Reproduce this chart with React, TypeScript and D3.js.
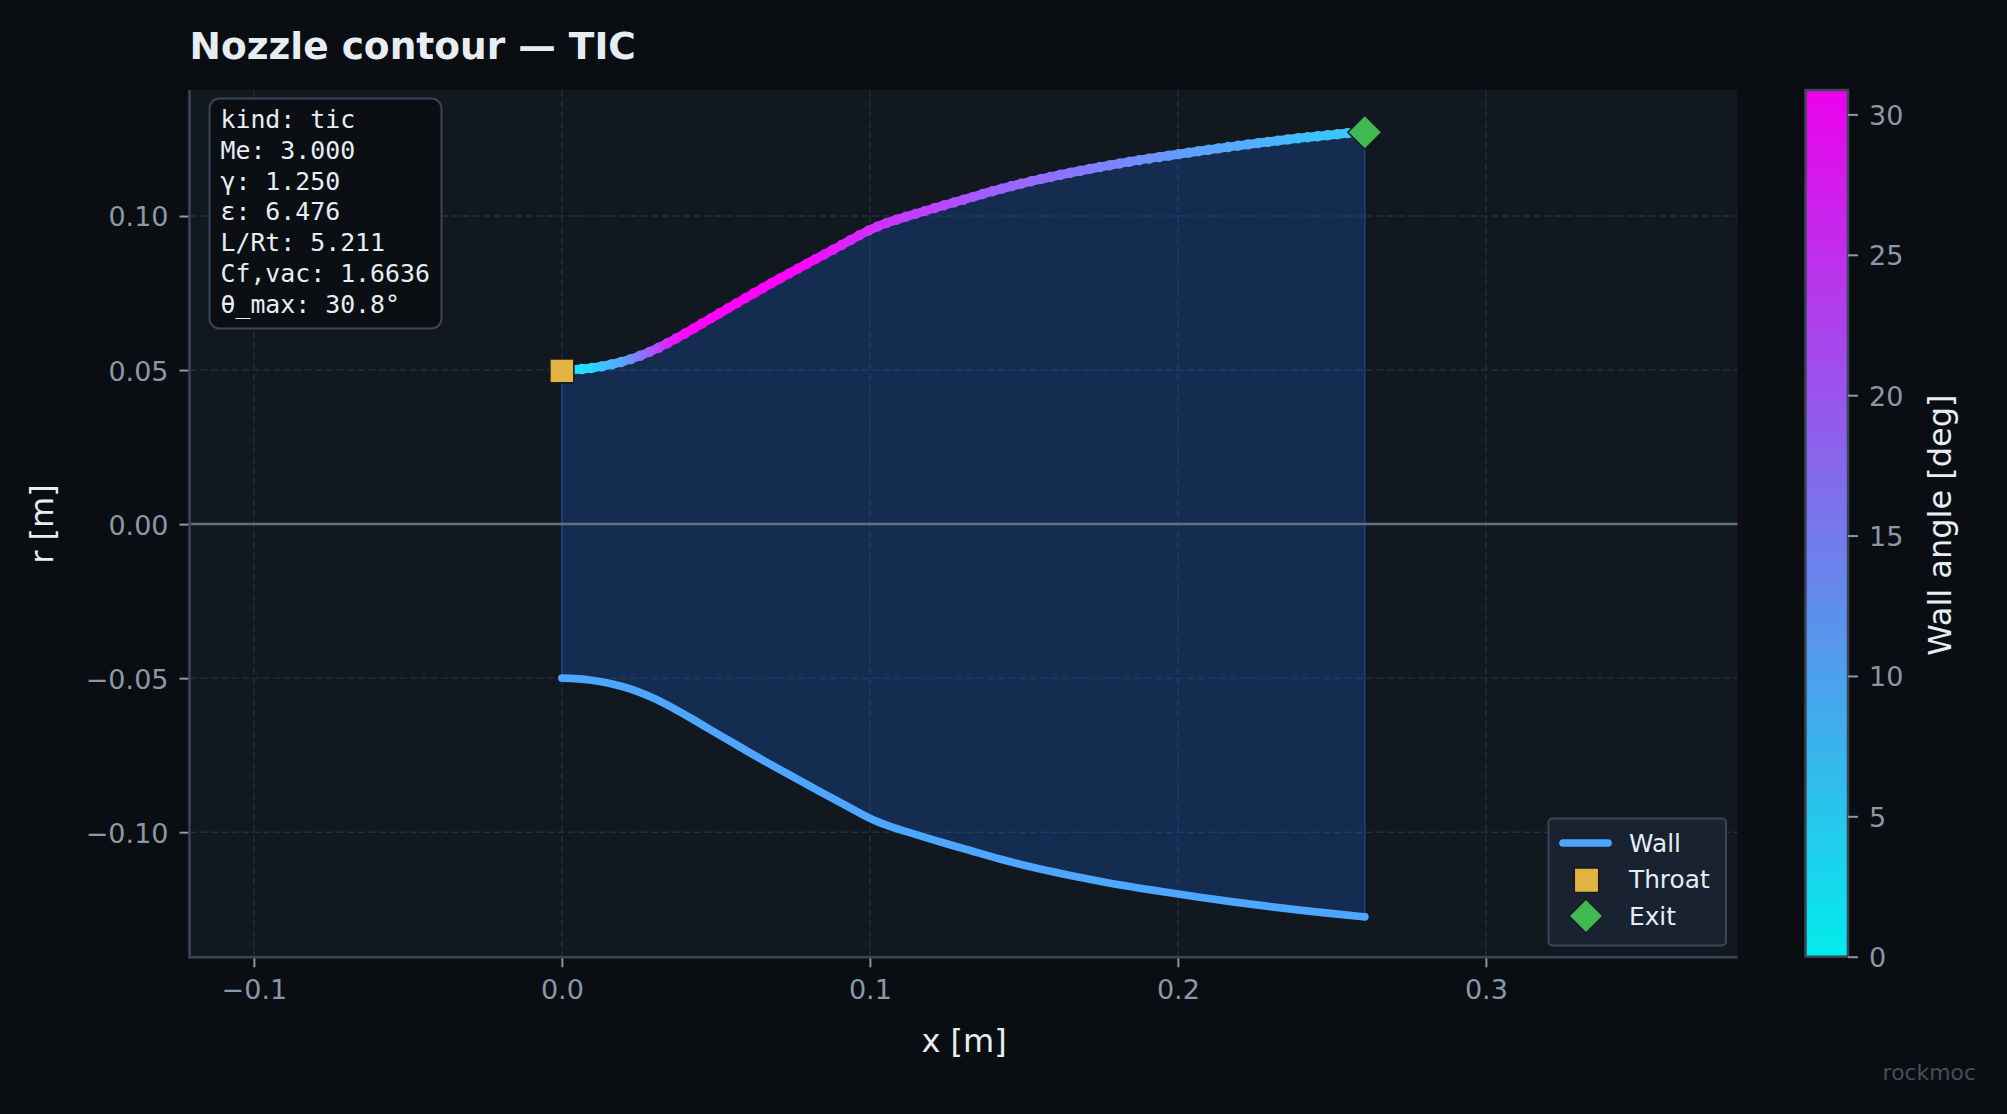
import React, { useRef, useEffect } from 'react';
import * as d3 from 'd3';

const W = 2007;
const H = 1114;

// contour: axial station [m], wall radius [m], wall angle [deg]
const wallX = [0, 0.0091, 0.0145, 0.0199, 0.0253, 0.0307, 0.0361, 0.0416, 0.047, 0.0578, 0.0686, 0.0794, 0.0903, 0.1011, 0.1065, 0.1119, 0.1227, 0.1314, 0.1422, 0.1529, 0.1639, 0.1747, 0.1854, 0.1963, 0.2071, 0.2179, 0.2288, 0.2396, 0.2503, 0.2607];
const wallR = [0.05, 0.0506, 0.0515, 0.0528, 0.0546, 0.0569, 0.0597, 0.0628, 0.066, 0.0723, 0.0785, 0.0844, 0.0903, 0.096, 0.0981, 0.0998, 0.1031, 0.1056, 0.1087, 0.1114, 0.1138, 0.1159, 0.1178, 0.1195, 0.1211, 0.1226, 0.124, 0.1253, 0.1264, 0.1275];
const wallAngle = [2, 5, 8, 11, 16, 22, 28, 30, 30.8, 30.8, 30.8, 30, 27, 25, 24.5, 23.5, 22.5, 20.5, 19, 18, 17, 15.4, 14, 12.3, 11.3, 10.3, 9.3, 8, 7.2, 6.5];

const xTicks = [-0.1, 0, 0.1, 0.2, 0.3];
const yTicks = [-0.1, -0.05, 0, 0.05, 0.1];
const angleTicks = [0, 5, 10, 15, 20, 25, 30];
const infoLines = ['kind: tic', 'Me: 3.000', 'γ: 1.250', 'ε: 6.476', 'L/Rt: 5.211', 'Cf,vac: 1.6636', 'θ_max: 30.8°'];
const legendItems = ['Wall', 'Throat', 'Exit'];

const C = {
  fig: '#0a0d12',
  axes: '#111820',
  grid: '#242f3e',
  spine: '#3a4658',
  tick: '#8b98a8',
  text: '#e6edf3',
  wall: '#4da6ff',
  throat: '#e3b341',
  exit: '#3fb950',
};
const SANS = '"DejaVu Sans", sans-serif';
const MONO = '"DejaVu Sans Mono", monospace';

function App() {
  const svgRef = useRef(null);
  useEffect(() => {
    const svg = d3.select(svgRef.current);
    svg.selectAll('*').remove();

    const left = 189.5, right = 1737.5, top = 90, bottom = 957.3;
    const x = d3.scaleLinear().domain([-0.1209, 0.3817]).range([left, right]);
    const y = d3.scaleLinear().domain([-0.1406, 0.1409]).range([bottom, top]);
    const cbar = d3.scaleLinear().domain([0, 30.87]).range([956.7, 90]);
    const cool = d3.interpolateRgb('#00ffff', '#ff00ff');
    const angleColor = (a: number) => cool(a / 30.87);

    svg.append('rect').attr('width', W).attr('height', H).attr('fill', C.fig);
    svg.append('rect').attr('x', left).attr('y', top).attr('width', right - left).attr('height', bottom - top).attr('fill', C.axes);

    // grid
    const grid = svg.append('g').attr('stroke', C.grid).attr('stroke-width', 1.4).attr('stroke-dasharray', '7 3.5');
    grid.selectAll('.gx').data(xTicks).join('line')
      .attr('x1', d => x(d)).attr('x2', d => x(d)).attr('y1', top).attr('y2', bottom);
    grid.selectAll('.gy').data(yTicks.filter(d => d !== 0)).join('line')
      .attr('x1', left).attr('x2', right).attr('y1', d => y(d)).attr('y2', d => y(d));

    // fill between walls
    const idx = d3.range(wallX.length);
    const area = d3.area<number>()
      .x(i => x(wallX[i]))
      .y0(i => y(-wallR[i]))
      .y1(i => y(wallR[i]))
      .curve(d3.curveMonotoneX);
    svg.append('path').attr('d', area(idx))
      .attr('fill', 'rgb(30,80,170)').attr('fill-opacity', 0.36)
      .attr('stroke', 'rgb(30,80,170)').attr('stroke-opacity', 0.5).attr('stroke-width', 2);

    // centre line
    svg.append('line').attr('x1', left).attr('x2', right).attr('y1', y(0)).attr('y2', y(0))
      .attr('stroke', '#626f7d').attr('stroke-width', 2.5);

    // walls
    const upper = d3.line<number>().x(i => x(wallX[i])).y(i => y(wallR[i])).curve(d3.curveMonotoneX);
    const lower = d3.line<number>().x(i => x(wallX[i])).y(i => y(-wallR[i])).curve(d3.curveMonotoneX);

    const defs = svg.append('defs');
    const lastX = wallX[wallX.length - 1];
    const wallGrad = defs.append('linearGradient').attr('id', 'wallGrad')
      .attr('gradientUnits', 'userSpaceOnUse')
      .attr('x1', x(0)).attr('x2', x(lastX)).attr('y1', 0).attr('y2', 0);
    wallGrad.selectAll('stop').data(idx).join('stop')
      .attr('offset', i => wallX[i] / lastX)
      .attr('stop-color', i => angleColor(wallAngle[i]));

    svg.append('path').attr('d', lower(idx)).attr('fill', 'none')
      .attr('stroke', C.wall).attr('stroke-width', 7.7).attr('stroke-linecap', 'round');
    svg.append('path').attr('d', upper(idx)).attr('fill', 'none')
      .attr('stroke', 'url(#wallGrad)').attr('stroke-width', 9);
    // the coloured wall is a row of dots
    svg.append('path').attr('d', upper(idx)).attr('fill', 'none')
      .attr('stroke', 'url(#wallGrad)').attr('stroke-width', 10.4)
      .attr('stroke-linecap', 'round').attr('stroke-dasharray', '0.01 10');

    // markers
    svg.append('path').attr('d', d3.symbol(d3.symbolSquare, 24 * 24)())
      .attr('transform', `translate(${x(0)},${y(0.05) + 0.8})`)
      .attr('fill', C.throat).attr('stroke', '#161b22').attr('stroke-width', 1.6);
    svg.append('path').attr('d', 'M0,-17L17,0L0,17L-17,0Z')
      .attr('transform', `translate(${x(lastX)},${y(0.1272)})`)
      .attr('fill', C.exit).attr('stroke', '#161b22').attr('stroke-width', 1.6);

    // axes
    const fmt = (d: d3.NumberValue) => d3.format('.1f')(d as number).replace('-', '\u2212');
    const fmtY = (d: d3.NumberValue) => d3.format('.2f')(d as number).replace('-', '\u2212');
    const styleAxis = (g: any) => {
      g.selectAll('.domain').remove();
      g.selectAll('.tick line').attr('stroke', C.tick).attr('stroke-width', 2);
      g.selectAll('.tick text').attr('fill', C.tick).attr('font-family', SANS).attr('font-size', 27);
    };
    const xAxis = svg.append('g').attr('transform', `translate(0,${bottom})`)
      .call(d3.axisBottom(x).tickValues(xTicks).tickFormat(fmt).tickSize(10).tickPadding(13));
    styleAxis(xAxis);
    const yAxis = svg.append('g').attr('transform', `translate(${left},0)`)
      .call(d3.axisLeft(y).tickValues(yTicks).tickFormat(fmtY).tickSize(10).tickPadding(11));
    styleAxis(yAxis);
    yAxis.selectAll('.tick text').attr('transform', 'translate(0,1.3)');

    svg.append('line').attr('x1', left).attr('x2', left).attr('y1', top).attr('y2', bottom + 1.2)
      .attr('stroke', C.spine).attr('stroke-width', 2.5);
    svg.append('line').attr('x1', left).attr('x2', right).attr('y1', bottom).attr('y2', bottom)
      .attr('stroke', C.spine).attr('stroke-width', 2.5);

    // info box
    svg.append('rect').attr('x', 209.5).attr('y', 98.5).attr('width', 232).attr('height', 230).attr('rx', 10)
      .attr('fill', '#0b0e13').attr('stroke', C.spine).attr('stroke-width', 2);
    svg.append('g').selectAll('text').data(infoLines).join('text')
      .attr('x', 220.5).attr('y', (d, i) => 128.3 + i * 30.7)
      .attr('fill', C.text).attr('font-family', MONO).attr('font-size', 24.85)
      .text(d => d);

    // legend
    svg.append('rect').attr('x', 1548.5).attr('y', 818.5).attr('width', 177.5).attr('height', 127).attr('rx', 4)
      .attr('fill', '#182230').attr('stroke', C.spine).attr('stroke-width', 2);
    svg.append('line').attr('x1', 1563).attr('x2', 1608).attr('y1', 843).attr('y2', 843)
      .attr('stroke', C.wall).attr('stroke-width', 7.7).attr('stroke-linecap', 'round');
    svg.append('path').attr('d', d3.symbol(d3.symbolSquare, 24.5 * 24.5)())
      .attr('transform', 'translate(1586.5,880.3)')
      .attr('fill', C.throat).attr('stroke', '#161b22').attr('stroke-width', 1.6);
    svg.append('path').attr('d', 'M0,-17L17,0L0,17L-17,0Z')
      .attr('transform', 'translate(1586,916)')
      .attr('fill', C.exit).attr('stroke', '#161b22').attr('stroke-width', 1.6);
    svg.append('g').selectAll('text').data(legendItems).join('text')
      .attr('x', 1629).attr('y', (d, i) => [851.7, 887.7, 925][i])
      .attr('fill', C.text).attr('font-family', SANS).attr('font-size', 24.8)
      .text(d => d);

    // colour bar
    const cx0 = 1805.5, cx1 = 1848;
    const barGrad = defs.append('linearGradient').attr('id', 'barGrad')
      .attr('x1', 0).attr('x2', 0).attr('y1', 1).attr('y2', 0);
    barGrad.selectAll('stop').data([0, 1]).join('stop')
      .attr('offset', d => d).attr('stop-color', d => cool(d));
    svg.append('rect').attr('x', cx0).attr('y', top).attr('width', cx1 - cx0).attr('height', cbar(0) - top)
      .attr('fill', 'url(#barGrad)').attr('fill-opacity', 0.92)
      .attr('stroke', C.spine).attr('stroke-width', 2.5);
    const cAxis = svg.append('g').attr('transform', `translate(${cx1},0)`)
      .call(d3.axisRight(cbar).tickValues(angleTicks).tickFormat(d => String(d)).tickSize(10).tickPadding(11));
    styleAxis(cAxis);
    cAxis.selectAll('.tick text').attr('transform', 'translate(0,1.3)');

    // labels
    svg.append('text').attr('x', 189.5).attr('y', 59).attr('fill', C.text).attr('font-family', SANS)
      .attr('font-size', 37.5).attr('font-weight', 'bold').text('Nozzle contour — TIC');
    svg.append('text').attr('x', 964).attr('y', 1052).attr('text-anchor', 'middle').attr('fill', C.text)
      .attr('font-family', SANS).attr('font-size', 32).text('x [m]');
    svg.append('text').attr('transform', `translate(53,${y(0)}) rotate(-90)`).attr('text-anchor', 'middle')
      .attr('fill', C.text).attr('font-family', SANS).attr('font-size', 32).text('r [m]');
    svg.append('text').attr('transform', `translate(1951,${y(0) + 1}) rotate(-90)`).attr('text-anchor', 'middle')
      .attr('fill', C.text).attr('font-family', SANS).attr('font-size', 32).text('Wall angle [deg]');
    svg.append('text').attr('x', 1976).attr('y', 1080).attr('text-anchor', 'end').attr('fill', '#454e5c')
      .attr('font-family', SANS).attr('font-size', 21.9).text('rockmoc');
  }, []);

  return <svg ref={svgRef} width={W} height={H} style={{ position: 'absolute', left: 0, top: 0, display: 'block' }}></svg>;
}

export default App;
